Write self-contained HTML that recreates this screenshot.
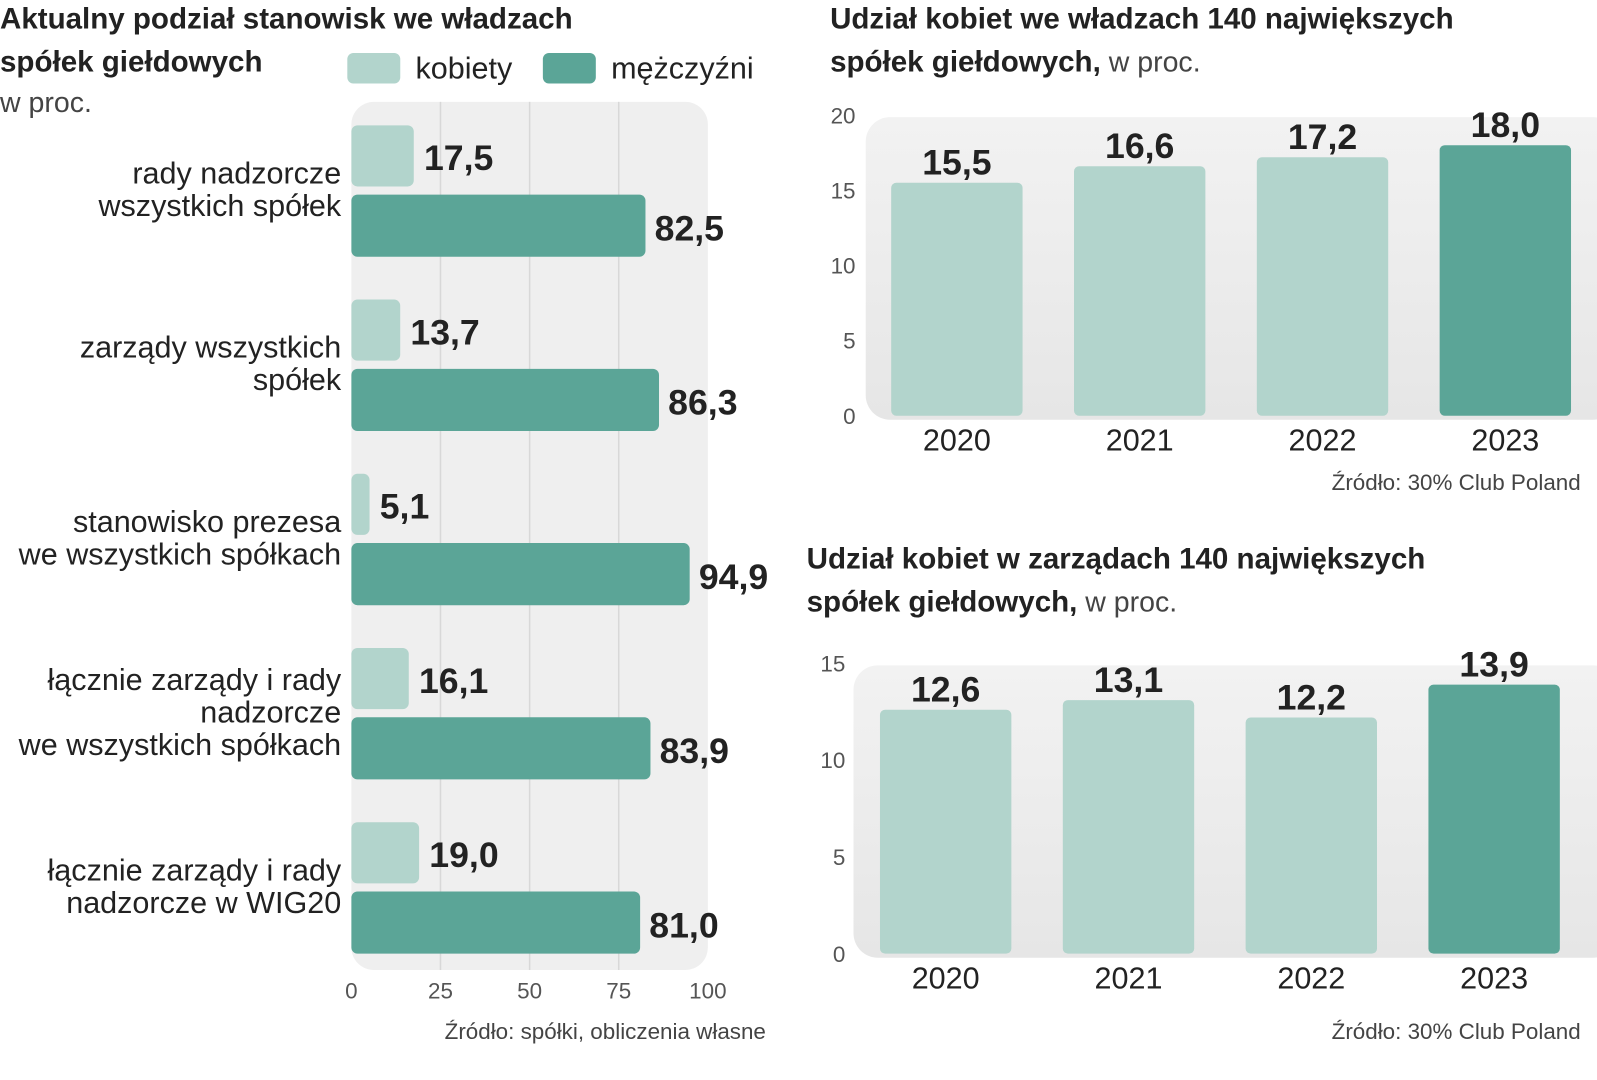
<!DOCTYPE html>
<html><head><meta charset="utf-8">
<style>
html,body{margin:0;padding:0;background:#fff;}
svg{display:block;}
text{font-family:"Liberation Sans",sans-serif;fill:#222;}
.t{font-family:"Liberation Sans Narrow","Liberation Sans",sans-serif;font-weight:bold;font-size:29px;}
.v{font-family:"Liberation Sans Narrow","Liberation Sans",sans-serif;font-weight:bold;font-size:35px;fill:#222;}
.lt{font-size:28px;fill:#444;}
.cat{font-size:30px;fill:#222;}
.tick{font-size:22px;fill:#555;}
.src{font-size:22px;fill:#444;}
.yr{font-size:30px;fill:#222;}
</style></head>
<body>
<svg id="c" width="1597" height="1080" viewBox="0 0 1568 1060" preserveAspectRatio="none" xmlns="http://www.w3.org/2000/svg">
<defs>
<linearGradient id="pg" x1="0" y1="0" x2="0" y2="1"><stop offset="0" stop-color="#f2f2f2"/><stop offset="1" stop-color="#e6e6e6"/></linearGradient>
</defs>
<g>
<text class="t" x="0" y="28">Aktualny podział stanowisk we władzach</text>
<text class="t" x="0" y="70">spółek giełdowych</text>
<text class="lt" x="0" y="110">w proc.</text>
</g>
<g>
<rect x="341" y="52" width="52" height="30" rx="6" fill="#b2d4cc"/>
<text x="408" y="77" font-size="30" fill="#333">kobiety</text>
<rect x="533" y="52" width="52" height="30" rx="6" fill="#5ba597"/>
<text x="600" y="77" font-size="30" fill="#333">mężczyźni</text>
</g>
<g id="left"></g>
<text class="src" x="752" y="1020" text-anchor="end">Źródło: spółki, obliczenia własne</text>

<g>
<text class="t" x="815" y="28">Udział kobiet we władzach 140 największych</text>
<text x="815" y="70"><tspan class="t">spółek giełdowych,</tspan><tspan class="lt"> w proc.</tspan></text>
</g>
<g id="tr"></g>
<text class="src" x="1552" y="481" text-anchor="end">Źródło:  30% Club Poland</text>

<g>
<text class="t" x="792" y="558">Udział kobiet w zarządach 140 największych</text>
<text x="792" y="600"><tspan class="t">spółek giełdowych,</tspan><tspan class="lt"> w proc.</tspan></text>
</g>
<g id="br"></g>
<text class="src" x="1552" y="1020" text-anchor="end">Źródło:  30% Club Poland</text>
</svg>
<script>
const leftCats=[["rady nadzorcze","wszystkich spółek"],["zarządy wszystkich","spółek"],["stanowisko prezesa","we wszystkich spółkach"],["łącznie zarządy i rady","nadzorcze","we wszystkich spółkach"],["łącznie zarządy i rady","nadzorcze w WIG20"]];
const kobiety=[17.5,13.7,5.1,16.1,19.0];
const mezczyzni=[82.5,86.3,94.9,83.9,81.0];
const leftTicks=[0,25,50,75,100];
const years=["2020","2021","2022","2023"];
const wladze=[15.5,16.6,17.2,18.0];
const wladzeTicks=[0,5,10,15,20];
const zarzady=[12.6,13.1,12.2,13.9];
const zarzadyTicks=[0,5,10,15];

const NS="http://www.w3.org/2000/svg";
function mk(p,tag,a,txt){const e=document.createElementNS(NS,tag);for(const k in a)e.setAttribute(k,a[k]);if(txt!==undefined)e.textContent=txt;p.appendChild(e);return e;}
const fmt=v=>v.toFixed(1).replace(".",",");

(function(){
const g=document.getElementById('left');
const x=v=>345+v*3.5;
let e=mk(g,'rect',{x:345,y:100,width:350,height:852,rx:22,fill:'#efefef'});

leftTicks.forEach(t=>{
 if(t>0&&t<100){e=mk(g,'line',{x1:x(t),x2:x(t),y1:100,y2:952,stroke:'#d8d8d8','stroke-width':1.5});
 }
 e=mk(g,'text',{x:x(t),y:980,'text-anchor':'middle',class:'tick'},String(t));
 
});
kobiety.forEach((v,i)=>{
 const y0=123+i*171;
 e=mk(g,'rect',{x:345,y:y0,width:x(v)-345,height:60,rx:6,fill:'#b2d4cc'});
 
 e=mk(g,'text',{x:x(v)+10,y:y0+44,class:'v'},fmt(v));
 
 const m=mezczyzni[i];
 e=mk(g,'rect',{x:345,y:y0+68,width:x(m)-345,height:61,rx:6,fill:'#5ba597'});
 
 e=mk(g,'text',{x:x(m)+9,y:y0+113,class:'v'},fmt(m));
 
 const lines=leftCats[i];const cy=y0+63;const lh=32;
 const start=cy-(lines.length-1)*lh/2+10;
 lines.forEach((l,j)=>{e=mk(g,'text',{x:335,y:start+j*lh,'text-anchor':'end',class:'cat'},l);
 });
});
})();

function colChart(id,vals,ticks,max,y0px,ytop,panelX,tickX,barX0,yrY,pfx){
 const g=document.getElementById(id);
 const y=v=>y0px-(y0px-ytop)*v/max;
 let e=mk(g,'rect',{x:panelX,y:y(max)+2,width:1568-panelX+20,height:y0px-y(max)+2,rx:24,fill:'url(#pg)'});
 
 ticks.forEach(t=>{e=mk(g,'text',{x:tickX,y:y(t)+8,'text-anchor':'end',class:'tick'},String(t));
 });
 vals.forEach((v,i)=>{
  const bx=barX0+i*179.5;
  e=mk(g,'rect',{x:bx,y:y(v),width:129,height:y0px-y(v),rx:5,fill:i===vals.length-1?'#5ba597':'#b2d4cc'});
  
  e=mk(g,'text',{x:bx+64.5,y:y(v)-8,'text-anchor':'middle',class:'v'},fmt(v));
  
  e=mk(g,'text',{x:bx+64.5,y:yrY,'text-anchor':'middle',class:'yr'},years[i]);
  
 });
}
colChart('tr',wladze,wladzeTicks,20,408,113,850,840,875,442,'wladze');
colChart('br',zarzady,zarzadyTicks,15,936,651,838,830,864,970,'zarzady');
</script>
</body></html>
